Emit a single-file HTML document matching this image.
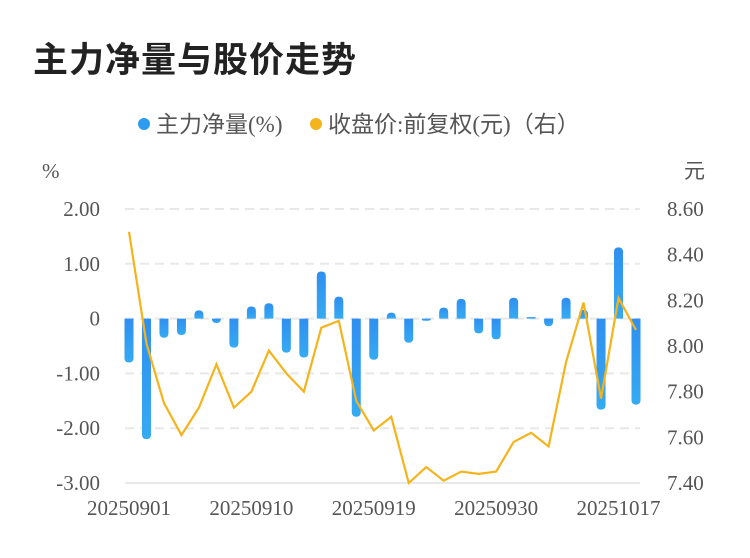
<!DOCTYPE html>
<html><head><meta charset="utf-8">
<style>
body{margin:0;background:#fff;width:750px;height:558px;overflow:hidden;font-family:"Liberation Sans","Noto Sans CJK SC",sans-serif}
#title{position:absolute;left:33px;top:32px;font-size:35px;font-weight:bold;color:#222;letter-spacing:1px}
</style></head><body>
<div id="title">主力净量与股价走势</div>
<svg id="chart" width="750" height="558" style="position:absolute;left:0;top:0">
<defs><linearGradient id="bg" x1="0" y1="0" x2="0" y2="1"><stop offset="0" stop-color="#2f8ff0"/><stop offset="1" stop-color="#35aaf2"/></linearGradient></defs>
<g>
<circle cx="144" cy="124" r="6" fill="#2d9cf0"/>
<text x="156" y="132" font-size="23" fill="#555" font-family="Liberation Serif,Noto Sans CJK SC,serif">主力净量(%)</text>
<circle cx="316" cy="124" r="6" fill="#f5b31c"/>
<text x="328" y="132" font-size="23" fill="#555" font-family="Liberation Serif,Noto Sans CJK SC,serif">收盘价:前复权(元)（右）</text>
</g>
<text x="42" y="178" font-size="21" fill="#555" font-family="Liberation Serif,serif">%</text>
<text x="684" y="178" font-size="21" fill="#555" font-family="Liberation Serif,Noto Sans CJK SC,serif">元</text>
<g id="g"></g>
</svg>
<script>
const dates=["20250901","20250902","20250903","20250904","20250905","20250908","20250909","20250910","20250911","20250912","20250915","20250916","20250917","20250918","20250919","20250922","20250923","20250924","20250925","20250926","20250929","20250930","20251009","20251010","20251013","20251014","20251015","20251016","20251017","20251020"];
const netFlow=[-0.80,-2.20,-0.35,-0.30,0.15,-0.08,-0.53,0.22,0.28,-0.62,-0.71,0.86,0.40,-1.79,-0.75,0.11,-0.44,-0.04,0.20,0.36,-0.27,-0.38,0.38,0.01,-0.14,0.38,0.16,-1.66,1.30,-1.57];
const price=[8.50,8.01,7.75,7.61,7.73,7.92,7.73,7.80,7.98,7.88,7.80,8.08,8.11,7.76,7.63,7.69,7.40,7.47,7.41,7.45,7.44,7.45,7.58,7.62,7.56,7.93,8.19,7.77,8.21,8.07];
const leftTicks=[2,1,0,-1,-2,-3];
const leftTickLabels=["2.00","1.00","0","-1.00","-2.00","-3.00"];
const rightTicks=[8.6,8.4,8.2,8.0,7.8,7.6,7.4];
const xLabelIdx=[0,7,14,21,28];
const NS="http://www.w3.org/2000/svg",g=document.getElementById('g');
const plotTop=209,plotBot=483;
const yL=v=>plotTop+(2-v)/5*(plotBot-plotTop);
const yR=v=>plotTop+(8.6-v)/1.2*(plotBot-plotTop);
const xPos=i=>129+i*(636-129)/29;
function mk(t,a){const e=document.createElementNS(NS,t);for(const k in a)e.setAttribute(k,a[k]);g.appendChild(e);return e;}
leftTicks.forEach((v,i)=>{
 const l=mk('line',{x1:125,x2:640,y1:yL(v),y2:yL(v),stroke:'#e8e8e8','stroke-width':2,'stroke-dasharray':v===-3?'':'9,6'});
 
 
 const t=mk('text',{x:100,y:yL(v)+7,'text-anchor':'end','font-size':21,fill:'#555','font-family':'Liberation Serif,serif'});
 t.textContent=leftTickLabels[i];
 
 
});
rightTicks.forEach(v=>{
 const t=mk('text',{x:667,y:yR(v)+7,'font-size':21,fill:'#555','font-family':'Liberation Serif,serif'});
 t.textContent=v.toFixed(2);
 
 
});
netFlow.forEach((v,i)=>{
 const y0=yL(0),y1=yL(v),w=9,xl=xPos(i)-w/2;
 const h=Math.abs(y1-y0),r=Math.min(4.5,h),s=v>=0?-1:1;
 const yEnd=y0+s*Math.max(h,1.5);
 const d=`M${xl},${y0} L${xl},${yEnd-s*r} Q${xl},${yEnd} ${xl+r},${yEnd} L${xl+w-r},${yEnd} Q${xl+w},${yEnd} ${xl+w},${yEnd-s*r} L${xl+w},${y0} Z`;
 const b=mk('path',{d:d,fill:'url(#bg)'});
 
 
});
const p=mk('polyline',{points:price.map((v,i)=>xPos(i)+','+yR(v)).join(' '),fill:'none',stroke:'#f5b31c','stroke-width':2.2});


xLabelIdx.forEach(i=>{
 const t=mk('text',{x:xPos(i),y:515,'text-anchor':'middle','font-size':21,fill:'#555','font-family':'Liberation Serif,serif'});
 t.textContent=dates[i];
 
 
});
</script>
</body></html>
